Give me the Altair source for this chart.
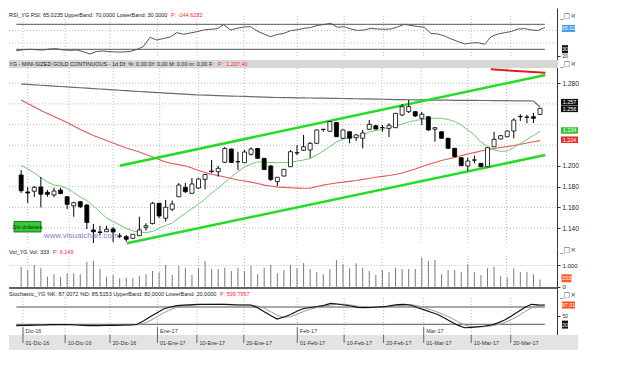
import altair as alt
import pandas as pd

# ------------------------------------------------------------------ data
opens = [1191.3, 1174.9, 1175.6, 1179.7, 1174.6, 1172.0, 1176.8, 1170.3, 1161.6, 1165.5,
         1162.3, 1138.2, 1136.3, 1136.5, 1139.1, 1132.4, 1131.7, 1130.1, 1132.7, 1140.8,
         1144.4, 1164.0, 1149.5, 1158.2, 1170.3, 1179.4, 1173.6, 1178.7, 1187.1, 1194.6,
         1194.5, 1203.6, 1216.4, 1204.2, 1203.2, 1211.3, 1216.9, 1207.4, 1200.0, 1184.8,
         1190.3, 1199.3, 1212.6, 1215.2, 1215.5, 1221.9, 1235.3, 1233.5, 1242.0, 1226.8,
         1233.1, 1227.3, 1226.8, 1235.5, 1238.9, 1237.0, 1236.4, 1237.0, 1249.3, 1252.5,
         1252.5, 1246.1, 1247.6, 1235.5, 1233.1, 1226.8, 1217.1, 1208.0, 1200.0, 1205.6,
         1202.6, 1199.3, 1218.6, 1226.1, 1228.3, 1233.8, 1247.6, 1247.3, 1247.6, 1249.8]
highs = [1196.1, 1179.7, 1180.7, 1189.4, 1176.8, 1179.0, 1179.0, 1171.0, 1165.5, 1166.2,
         1163.3, 1144.0, 1142.3, 1142.3, 1141.1, 1135.3, 1133.3, 1134.3, 1151.0, 1144.6,
         1165.2, 1164.3, 1167.1, 1166.5, 1183.6, 1183.6, 1188.4, 1188.5, 1192.3, 1205.8,
         1200.0, 1218.4, 1216.9, 1213.8, 1215.5, 1218.0, 1217.4, 1207.7, 1201.0, 1189.4,
         1197.1, 1215.5, 1220.3, 1230.0, 1223.2, 1235.3, 1235.7, 1243.5, 1242.5, 1235.3,
         1233.8, 1230.9, 1234.8, 1244.4, 1239.6, 1239.6, 1241.3, 1251.2, 1259.9, 1263.8,
         1253.1, 1252.2, 1248.3, 1237.7, 1233.8, 1227.1, 1217.4, 1208.7, 1208.0, 1210.0,
         1202.9, 1218.4, 1233.1, 1230.0, 1234.3, 1246.1, 1250.0, 1249.3, 1251.2, 1256.0]
lows = [1174.0, 1164.3, 1170.0, 1159.9, 1170.3, 1169.8, 1172.7, 1158.2, 1151.0, 1159.4,
        1139.1, 1125.6, 1133.3, 1136.2, 1126.6, 1130.4, 1126.9, 1129.5, 1132.4, 1137.5,
        1143.5, 1149.8, 1146.2, 1156.5, 1170.0, 1173.9, 1172.9, 1177.8, 1177.5, 1192.9,
        1189.7, 1202.9, 1202.9, 1196.1, 1202.9, 1210.0, 1206.8, 1196.1, 1185.5, 1180.7,
        1189.9, 1199.0, 1210.6, 1214.5, 1207.7, 1221.3, 1233.1, 1232.9, 1228.0, 1226.1,
        1221.9, 1224.2, 1217.1, 1234.8, 1235.3, 1233.1, 1228.0, 1236.7, 1248.3, 1251.2,
        1247.3, 1239.6, 1233.8, 1223.5, 1226.1, 1216.4, 1208.2, 1200.0, 1195.2, 1202.6,
        1199.0, 1199.0, 1218.4, 1225.6, 1228.0, 1226.8, 1243.5, 1241.3, 1241.5, 1249.3]
closes = [1176.1, 1173.9, 1179.4, 1172.7, 1172.7, 1175.8, 1173.4, 1163.0, 1164.5, 1160.7,
          1145.4, 1136.5, 1135.8, 1138.8, 1136.2, 1132.2, 1129.2, 1134.0, 1138.2, 1142.3,
          1164.0, 1151.7, 1160.1, 1163.3, 1181.6, 1175.2, 1182.6, 1187.4, 1191.8, 1195.2,
          1197.8, 1216.9, 1203.4, 1204.0, 1213.5, 1216.4, 1207.4, 1196.6, 1187.0, 1189.1,
          1196.8, 1213.8, 1212.9, 1218.6, 1221.9, 1234.8, 1235.5, 1243.0, 1228.3, 1234.8,
          1226.8, 1230.0, 1231.9, 1240.3, 1235.7, 1237.2, 1239.3, 1250.9, 1257.3, 1257.3,
          1248.3, 1250.0, 1234.8, 1237.0, 1226.8, 1217.1, 1209.0, 1200.3, 1204.8, 1205.9,
          1199.3, 1217.7, 1225.8, 1229.3, 1233.8, 1244.4, 1247.9, 1247.1, 1246.1, 1255.7]
sma_fast = [1200.5, 1197.1, 1193.2, 1188.9, 1184.5, 1181.6, 1180.7, 1178.3, 1174.4, 1170.0,
            1166.7, 1161.4, 1155.6, 1149.8, 1146.4, 1143.0, 1139.6, 1137.2, 1136.2, 1135.7,
            1136.7, 1140.1, 1142.5, 1144.9, 1149.8, 1154.1, 1158.9, 1163.3, 1168.1, 1173.9,
            1178.7, 1184.1, 1189.4, 1194.7, 1199.0, 1201.9, 1203.9, 1203.9, 1203.4, 1203.2,
            1203.2, 1203.4, 1204.8, 1205.8, 1207.2, 1210.6, 1214.5, 1218.8, 1223.2, 1226.1,
            1227.5, 1228.3, 1230.0, 1232.9, 1234.3, 1235.3, 1237.2, 1238.6, 1240.6, 1242.5,
            1244.0, 1244.9, 1245.9, 1246.1, 1246.1, 1244.9, 1243.0, 1239.6, 1234.8, 1230.0,
            1223.0, 1219.0, 1215.5, 1214.2, 1214.5, 1217.9, 1221.7, 1225.6, 1229.5, 1233.6]
sma_mid = [1263.8, 1260.4, 1257.0, 1253.6, 1250.7, 1247.8, 1244.9, 1242.0, 1238.6, 1235.3,
           1232.4, 1229.5, 1227.1, 1224.6, 1222.2, 1219.8, 1217.4, 1215.5, 1213.5, 1211.1,
           1208.7, 1206.3, 1203.9, 1202.4, 1201.4, 1200.0, 1198.1, 1195.7, 1193.7, 1191.8,
           1190.8, 1189.4, 1187.9, 1186.5, 1185.5, 1184.5, 1183.1, 1181.6, 1180.7, 1179.9,
           1179.4, 1179.0, 1178.7, 1178.5, 1178.7, 1180.2, 1181.6, 1182.6, 1183.6, 1184.5,
           1185.2, 1186.0, 1187.0, 1187.9, 1189.1, 1190.0, 1190.8, 1191.8, 1193.2, 1195.2,
           1197.1, 1199.5, 1201.4, 1203.4, 1205.3, 1206.8, 1208.2, 1210.1, 1211.6, 1213.0,
           1214.5, 1215.9, 1216.9, 1217.9, 1218.8, 1219.8, 1221.0, 1222.2, 1223.4, 1224.6]
sma_slow = [1279.2, 1278.8, 1278.4, 1278.0, 1277.6, 1277.2, 1276.8, 1276.4, 1276.0, 1275.6,
            1275.2, 1274.8, 1274.4, 1274.0, 1273.6, 1273.2, 1272.8, 1272.4, 1272.0, 1271.6,
            1271.2, 1270.8, 1270.4, 1270.1, 1269.7, 1269.4, 1269.0, 1268.6, 1268.4, 1268.2,
            1268.0, 1267.8, 1267.6, 1267.4, 1267.2, 1267.0, 1266.8, 1266.6, 1266.4, 1266.2,
            1266.1, 1266.0, 1265.9, 1265.8, 1265.7, 1265.6, 1265.5, 1265.4, 1265.3, 1265.2,
            1265.1, 1265.0, 1264.9, 1264.8, 1264.6, 1264.5, 1264.4, 1264.2, 1264.1, 1264.0,
            1263.9, 1263.8, 1263.7, 1263.7, 1263.6, 1263.6, 1263.5, 1263.5, 1263.4, 1263.4,
            1263.3, 1263.3, 1263.2, 1263.2, 1263.1, 1263.0, 1263.0, 1262.9, 1262.8, 1257.0]
rsi_vals = [27.8, 29.2, 30.0, 29.2, 28.9, 30.5, 31.0, 28.9, 28.4, 28.9,
            26.2, 22.5, 26.5, 27.3, 26.2, 25.7, 25.7, 26.5, 29.7, 34.5,
            49.2, 44.9, 47.3, 49.7, 56.6, 54.0, 56.1, 58.2, 60.9, 62.0,
            62.8, 69.4, 60.9, 63.6, 65.7, 66.2, 59.3, 54.5, 50.2, 53.7,
            55.6, 59.8, 61.2, 63.6, 64.9, 68.1, 69.7, 71.6, 65.2, 66.2,
            62.5, 60.1, 60.9, 63.6, 62.5, 62.0, 62.5, 65.7, 70.0, 68.1,
            66.5, 65.2, 55.3, 54.5, 51.3, 46.5, 42.5, 38.5, 40.1, 40.6,
            38.0, 50.5, 54.5, 56.6, 58.5, 62.5, 63.0, 60.9, 60.1, 65.0]
vol_vals = [922, 770, 1000, 848, 461, 572, 461, 618, 618, 572,
            1152, 1185, 816, 461, 539, 387, 415, 387, 507, 572,
            724, 664, 1000, 539, 968, 876, 539, 848, 1185, 816,
            816, 876, 724, 876, 724, 968, 572, 876, 1000, 618,
            770, 1000, 848, 1093, 816, 664, 572, 816, 1231, 1033,
            848, 1079, 876, 724, 539, 770, 664, 876, 816, 816,
            816, 1337, 1185, 1231, 572, 770, 770, 692, 1033, 664,
            539, 848, 922, 507, 415, 848, 664, 692, 572, 333]
stoch_k = [15.1, 15.8, 16.5, 17.5, 17.5, 18.6, 19.2, 19.2, 18.6, 17.5,
           16.5, 15.1, 15.1, 15.8, 16.5, 16.5, 17.5, 17.5, 19.2, 31.4,
           46.3, 59.2, 73.0, 80.0, 84.5, 86.2, 87.6, 89.0, 89.4, 89.4,
           89.4, 89.4, 88.0, 86.9, 86.9, 86.9, 78.3, 64.4, 50.5, 38.3,
           45.3, 54.0, 66.1, 74.8, 78.3, 81.7, 85.9, 92.5, 90.4, 86.9,
           83.5, 79.0, 77.6, 78.3, 80.0, 81.0, 84.5, 88.3, 89.4, 86.0,
           77.6, 70.0, 62.0, 54.0, 42.0, 29.0, 17.0, 8.1, 9.5, 11.5,
           14.0, 17.5, 25.0, 34.9, 49.0, 63.7, 78.0, 89.4, 87.5, 87.0]
stoch_d = [16.0, 15.6, 15.8, 16.6, 17.2, 17.9, 18.4, 19.0, 19.0, 18.4,
           17.5, 16.4, 15.6, 15.3, 15.8, 16.3, 16.8, 17.2, 18.1, 22.7,
           32.3, 45.6, 59.5, 70.7, 79.2, 83.6, 86.1, 87.6, 88.7, 89.3,
           89.4, 89.4, 88.9, 88.1, 87.3, 86.9, 84.0, 76.5, 64.4, 51.1,
           44.7, 45.9, 55.1, 65.0, 73.1, 78.3, 82.0, 86.7, 89.6, 89.9,
           86.9, 83.1, 80.0, 78.3, 78.6, 79.8, 81.8, 84.6, 87.4, 87.9,
           84.3, 77.9, 69.9, 62.0, 52.7, 41.7, 29.3, 18.0, 11.5, 9.7,
           11.7, 14.3, 18.8, 25.8, 36.3, 49.2, 63.6, 77.0, 85.0, 85.5]

tick_pos = [1, 7.3, 14, 21.1, 27, 34, 42, 49, 54.9, 60.9, 68, 73.9]
tick_labels = ["01-Dic-16", "10-Dic-16", "20-Dic-16", "01-Ene-17", "10-Ene-17", "20-Ene-17",
               "01-Feb-17", "10-Feb-17", "20-Feb-17", "01-Mar-17", "10-Mar-17", "20-Mar-17"]
month_pos = [1, 21.1, 42, 60.9]
month_labels = ["Dic-16", "Ene-17", "Feb-17", "Mar-17"]

upper_channel_x = [15.0, 79.8]
upper_channel_y = [1200.3, 1287.9]
lower_channel_x = [16.1, 79.8]
lower_channel_y = [1125.3, 1210.6]
red_trend_x = [71.5, 79.8]
red_trend_y = [1293.4, 1290.1]

price_grid = [1140, 1160, 1180, 1200, 1220, 1240, 1260, 1280]
price_labels = [1140, 1160, 1180, 1200, 1280]   # the others sit under the value tags
rsi_bands = [70, 30]
rsi_grid = [40, 60]
stoch_bands = [80, 20]
vol_ticks = [0, 1000]

for arr in (opens, highs, lows, closes, sma_fast, sma_mid, sma_slow, rsi_vals, vol_vals, stoch_k, stoch_d):
    assert len(arr) == 80, len(arr)

# ------------------------------------------------------------------ frames
n = len(opens)
bars = pd.DataFrame({
    "i": list(range(n)), "open": opens, "high": highs, "low": lows, "close": closes,
    "fast": sma_fast, "mid": sma_mid, "slow": sma_slow,
    "rsi": rsi_vals, "vol": vol_vals, "k": stoch_k, "d": stoch_d,
})
ticks_df = pd.DataFrame({"pos": tick_pos, "label": tick_labels})
months_df = pd.DataFrame({"pos": month_pos, "label": month_labels})
chan_df = pd.DataFrame({
    "ci": upper_channel_x + lower_channel_x,
    "cv": upper_channel_y + lower_channel_y,
    "line": ["up", "up", "low", "low"],
})
red_df = pd.DataFrame({"ci": red_trend_x, "cv": red_trend_y})
price_grid_df = pd.DataFrame({"v": price_grid})
rsi_band_df = pd.DataFrame({"v": rsi_bands, "x0": [0, 0], "x1": [n - 1, n - 1]})
rsi_grid_df = pd.DataFrame({"v": rsi_grid})
stoch_band_df = pd.DataFrame({"v": stoch_bands, "x0": [0, 0], "x1": [n - 1, n - 1]})
ONE = pd.DataFrame({"k": [0]})

# ------------------------------------------------------------------ styling
FONT = "Liberation Sans, Arial, sans-serif"
HS = 5.5          # header font size
GRID = "#bdbdbd"
W = 548
XS = alt.Scale(domain=[-1.09, 80.82], nice=False, zero=False)


def X(f):
    return alt.X(f, type="quantitative", scale=XS, axis=None)


def make_y(domain, axis):
    sc = alt.Scale(domain=domain, nice=False, zero=False)

    def Y(f):
        return alt.Y(f, type="quantitative", scale=sc, axis=axis)
    return Y


def right_axis(values, size=6, grid=False, euro=False):
    kw = dict(orient="right", values=values, grid=grid, tickSize=3, tickColor="#333",
              domainColor="#333", labelFontSize=size, labelFont=FONT, labelColor="#222",
              labelPadding=2, title=None)
    if grid:
        kw.update(gridDash=[1, 2], gridColor=GRID)
    if euro:
        kw["labelExpr"] = "replace(format(datum.value, ',d'), ',', '.')"
    return alt.Axis(**kw)


def label(txt, x, y, color="#1a1a1a", size=HS, align="left", font=FONT):
    return alt.Chart(ONE).mark_text(text=txt, align=align, baseline="middle", font=font,
                                    fontSize=size, color=color).encode(
        x=alt.value(x), y=alt.value(y))


def tag(pos, txt, fill, xc, w, h, Y, tcolor="white"):
    d = pd.DataFrame({"pos": [pos], "txt": [txt]})
    a = w / h
    path = f"M{-a},-1L{a},-1L{a},1L{-a},1Z"
    box = alt.Chart(d).mark_point(shape=path, filled=True, size=h * h, color=fill,
                                  opacity=1, strokeWidth=0).encode(x=alt.value(xc), y=Y("pos"))
    t = alt.Chart(d).mark_text(font=FONT, fontSize=5.5, color=tcolor, align="center",
                               baseline="middle").encode(x=alt.value(xc), y=Y("pos"), text="txt:N")
    return [box, t]


def vgrid(y0, y1):
    return alt.Chart(ticks_df).mark_rule(color=GRID, strokeDash=[1, 2], strokeWidth=1).encode(
        x=X("pos"), y=alt.value(y0), y2=alt.value(y1))


def icons(y):
    return label("_\u25a1\u00d7", 559, y, color="#444", size=7, align="center",
                 font="DejaVu Sans")


# ------------------------------------------------------------------ RSI panel
H_RSI = 50
RY = make_y([16.08, 96.08], right_axis([20], size=5))
rsi_layers = [
    vgrid(8, 48),
    alt.Chart(rsi_grid_df).mark_rule(color=GRID, strokeDash=[1, 2]).encode(
        x=alt.value(0), x2=alt.value(W), y=RY("v")),
    alt.Chart(rsi_band_df).mark_rule(color="#555", strokeWidth=1).encode(
        x=X("x0"), x2="x1", y=RY("v")),
    alt.Chart(bars).mark_line(color="#555", strokeWidth=1).encode(x=X("i"), y=RY("rsi")),
    label("RSI_YG RSI: 65,0235 UpperBand: 70,0000 LowerBand: 30,0000", 0, 7),
    label("P: -144,6282", 162, 7, color="#ff2a2a"),
    icons(8),
] + tag(63.4, "65.02", "#3d9be9", 559.5, 13, 7, RY) + tag(30.2, "30", "#111", 556, 6, 8, RY)
rsi_panel = alt.layer(*rsi_layers).properties(width=W, height=H_RSI)

# ------------------------------------------------------------------ price panel
H_P = 190
PY = make_y([1120.77, 1304.35], right_axis(price_labels, size=6.5, euro=True))
price_layers = [
    vgrid(10, 187),
    alt.Chart(price_grid_df).mark_rule(color=GRID, strokeDash=[1, 2]).encode(
        x=alt.value(0), x2=alt.value(W), y=PY("v")),
    alt.Chart(bars).mark_line(color="#6b6b6b", strokeWidth=1.2).encode(x=X("i"), y=PY("slow")),
    alt.Chart(bars).mark_line(color="#e25a5a", strokeWidth=1.2).encode(x=X("i"), y=PY("mid")),
    alt.Chart(bars).mark_line(color="#6dcc6d", strokeWidth=1).encode(x=X("i"), y=PY("fast")),
    alt.Chart(chan_df).mark_line(color="#22dd22", strokeWidth=2.5).encode(
        x=X("ci"), y=PY("cv"), detail="line:N"),
    alt.Chart(red_df).mark_line(color="#dd1f1f", strokeWidth=2).encode(x=X("ci"), y=PY("cv")),
    alt.Chart(bars).mark_rule(color="black", strokeWidth=1).encode(
        x=X("i"), y=PY("low"), y2="high"),
    alt.Chart(bars).mark_bar(size=4, stroke="black", strokeWidth=0.8).encode(
        x=X("i"), y=PY("open"), y2="close",
        color=alt.condition("datum.close < datum.open", alt.value("black"), alt.value("white"))),
    alt.Chart(ONE).mark_rect(color="#d7d7d7").encode(
        x=alt.value(0), x2=alt.value(549), y=alt.value(2), y2=alt.value(10)),
    label("YG - MINI-SIZED GOLD CONTINUOUS - 1d Df: %: 0,00 Df: 0,00 M: 0,00 m: 0,00 F:", 0, 6.3),
    label("P : 1.207,40", 209, 6.3, color="#ff2a2a"),
    icons(6),
    alt.Chart(ONE).mark_rect(color="#33cc33", stroke="#0a5a0a", strokeWidth=0.8).encode(
        x=alt.value(5), x2=alt.value(32), y=alt.value(163.5), y2=alt.value(174)),
    label("Sin \u00f3rdenes", 18.5, 169, color="#0b2a0b", size=5.5, align="center"),
    label("www.visualchart.com", 72, 178, color="#8080d0", size=8, align="center"),
] + tag(1261.7, "1.257", "#111", 560.5, 17, 6.5, PY) \
  + tag(1255.2, "1.256", "#111", 560.5, 17, 6.5, PY) \
  + tag(1234.3, "1.234", "#2fc62f", 560.5, 17, 6.5, PY) \
  + tag(1225.4, "1.224", "#e82a2a", 560.5, 17, 6.5, PY)
price_panel = alt.layer(*price_layers).properties(width=W, height=H_P)

# ------------------------------------------------------------------ volume panel
H_V = 41
VY = make_y([-106, 1784], right_axis(vol_ticks, size=6, grid=True, euro=True))
vol_layers = [
    vgrid(8, 40),
    alt.Chart(bars).mark_bar(size=1, color="#7a7a7a").encode(x=X("i"), y=VY("vol")),
    alt.Chart(ONE).mark_rule(color="#333", strokeWidth=1.5).encode(
        x=alt.value(0), x2=alt.value(549), y=alt.value(40)),
    label("Vol_YG Vol: 333", 0, 4.3),
    label("P: 6.149", 44, 4.3, color="#ff2a2a"),
    icons(2),
] + tag(387, "333", "#ff5a24", 557.5, 10, 8, VY)
vol_panel = alt.layer(*vol_layers).properties(width=W, height=H_V)

# ------------------------------------------------------------------ stochastic panel
H_S = 46
SY = make_y([-17.15, 142.5], right_axis([50], size=5))
stoch_layers = [
    vgrid(9, 46),
    alt.Chart(stoch_band_df).mark_rule(color="#555", strokeWidth=1).encode(
        x=X("x0"), x2="x1", y=SY("v")),
    alt.Chart(bars).mark_line(color="#9a9a9a", strokeWidth=1).encode(x=X("i"), y=SY("d")),
    alt.Chart(bars).mark_line(color="#111", strokeWidth=1.2).encode(x=X("i"), y=SY("k")),
    alt.Chart(months_df).mark_rule(color="#666").encode(
        x=X("pos"), y=alt.value(38), y2=alt.value(46)),
    alt.Chart(months_df).mark_text(align="left", dx=2.5, baseline="middle", font=FONT,
                                   fontSize=5.5, color="#333").encode(
        x=X("pos"), y=alt.value(41.5), text="label:N"),
    label("Stochastic_YG %K: 87,0072 %D: 85,5153 UpperBand: 80,0000 LowerBand: 20,0000", 0, 5.3),
    label("P: 599,7957", 211, 5.3, color="#ff2a2a"),
    icons(6),
] + tag(86.9, "87.01", "#ff4d1a", 559.5, 13, 7, SY) + tag(18.9, "20", "#111", 556, 6, 8, SY)
stoch_panel = alt.layer(*stoch_layers).properties(width=W, height=H_S)

# ------------------------------------------------------------------ date band
H_D = 16
date_layers = [
    alt.Chart(ONE).mark_rect(color="#e3e3e3").encode(
        x=alt.value(0), x2=alt.value(569), y=alt.value(0), y2=alt.value(15)),
    alt.Chart(ticks_df).mark_rule(color="#666").encode(
        x=X("pos"), y=alt.value(0), y2=alt.value(8)),
    alt.Chart(ticks_df).mark_text(align="left", dx=2.5, baseline="middle", font=FONT,
                                  fontSize=5.5, color="#333").encode(
        x=X("pos"), y=alt.value(8), text="label:N"),
]
date_panel = alt.layer(*date_layers).properties(width=W, height=H_D)

chart = alt.vconcat(
    rsi_panel, price_panel, vol_panel, stoch_panel, date_panel,
    spacing=0, bounds="flush",
    padding={"left": 0, "top": 0, "right": 0, "bottom": 0},
).configure_view(stroke=None)

chart.save("out.html", embed_options={"renderer": "svg", "actions": False})
